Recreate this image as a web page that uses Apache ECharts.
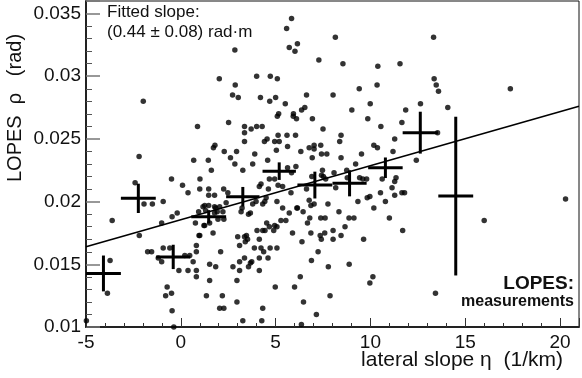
<!DOCTYPE html>
<html>
<head>
<meta charset="utf-8">
<script src="https://cdn.jsdelivr.net/npm/echarts@6/dist/echarts.min.js"></script>
<style>
html, body { margin: 0; padding: 0; background: #fff; }
#main { width: 582px; height: 378px; }
</style>
</head>
<body>
<div id="main"></div>
<script>
// event-by-event measurements (eta, rho)
var lopesPoints = [
    [5.84,0.0346],[5.58,0.0338],[5.72,0.0323],[6.02,0.0320],[6.15,0.0326],
    [2.85,0.0321],[2.03,0.0298],[2.87,0.0293],[4.00,0.0300],[4.72,0.0300],[5.09,0.0298],
    [2.73,0.0285],[3.03,0.0283],[4.20,0.0283],[4.69,0.0280],[5.00,0.0283],[5.51,0.0278],
    [5.16,0.0270],[5.09,0.0268],[5.94,0.0270],[5.93,0.0268],[6.10,0.0266],
    [-1.98,0.0280],[0.88,0.0260],[2.52,0.0263],[3.36,0.0260],[3.36,0.0255],[3.71,0.0258],[4.00,0.0260],[4.29,0.0260],
    [5.13,0.0253],[5.60,0.0253],[6.05,0.0253],[4.55,0.0250],[4.41,0.0248],[4.95,0.0248],[5.19,0.0248],[3.36,0.0248],
    [8.15,0.0331],[13.33,0.0331],[7.28,0.0313],[8.55,0.0310],[10.39,0.0308],[11.56,0.0310],
    [13.36,0.0298],[13.47,0.0293],[13.59,0.0288],[17.38,0.0290],[9.41,0.0290],[10.35,0.0293],
    [6.63,0.0285],[8.03,0.0285],[9.99,0.0278],[12.64,0.0278],[14.08,0.0275],[9.02,0.0273],[11.86,0.0273],
    [6.37,0.0273],[6.54,0.0275],[6.94,0.0266],[9.86,0.0266],[11.66,0.0263],[7.50,0.0258],[10.55,0.0260],
    [8.45,0.0253],[8.38,0.0248],[11.28,0.0250],
    [10.18,0.0245],[10.37,0.0243],[6.77,0.0243],[7.03,0.0245],[7.38,0.0245],[7.03,0.0242],[6.33,0.0240],[11.19,0.0240],
    [7.42,0.0238],[7.70,0.0238],[6.93,0.0235],[8.45,0.0235],[9.53,0.0238],[12.42,0.0233],[9.22,0.0230],[6.07,0.0228],
    [13.54,0.0255],
    [1.72,0.0243],[1.80,0.0245],[2.29,0.0240],[2.62,0.0235],[2.94,0.0240],[3.90,0.0238],[5.04,0.0241],[5.63,0.0244],
    [2.85,0.0230],[3.79,0.0230],[3.27,0.0225],[1.61,0.0225],[1.45,0.0233],[0.68,0.0233],[-2.20,0.0236],
    [-2.41,0.0215],[-0.49,0.0218],[0.09,0.0213],[1.01,0.0218],
    [4.23,0.0214],[4.14,0.0212],[4.67,0.0218],[4.95,0.0218],[5.13,0.0213],[5.37,0.0212],
    [5.84,0.0223],[4.58,0.0233],[5.63,0.0227],[4.62,0.0210],
    [0.38,0.0207],[1.47,0.0210],[1.47,0.0205],[1.78,0.0205],[1.00,0.0210],[2.26,0.0210],[2.48,0.0207],
    [4.50,0.0203],[3.97,0.0200],[3.79,0.0198],[4.32,0.0198],[5.07,0.0200],[5.81,0.0207],
    [6.63,0.0210],[8.17,0.0211],[9.83,0.0203],[9.97,0.0204],[10.53,0.0207],[10.79,0.0200],[11.14,0.0211],
    [11.28,0.0205],[11.66,0.0207],[11.80,0.0207],[9.34,0.0200],[7.76,0.0198],
    [7.47,0.0225],[7.42,0.0221],[7.52,0.0220],[8.08,0.0223],[6.91,0.0220],[7.64,0.0218],
    [8.75,0.0225],[8.78,0.0219],[9.43,0.0219],[9.60,0.0218],[9.80,0.0218],[10.62,0.0218],[11.35,0.0219],[11.28,0.0216],
    [-1.94,0.0198],[-1.50,0.0198],[-0.93,0.0200],[20.29,0.0202],
    [6.77,0.0201],[6.86,0.0197],[7.03,0.0198],[6.15,0.0195],[6.45,0.0192],[6.80,0.0187],[6.68,0.0183],
    [7.38,0.0187],[7.61,0.0187],[8.34,0.0192],[8.66,0.0180],[8.87,0.0187],[9.13,0.0187],[10.18,0.0195],
    [11.00,0.0187],[11.70,0.0177],[5.72,0.0191],
    [5.89,0.0175],[6.39,0.0168],[6.86,0.0175],[7.35,0.0173],[7.41,0.0170],[7.59,0.0175],[8.03,0.0177],
    [8.03,0.0170],[8.45,0.0173],[9.64,0.0170],[7.24,0.0160],[6.89,0.0153],[7.78,0.0148],[8.88,0.0150],
    [16.00,0.0185],
    [-3.62,0.0185],[-2.19,0.0173],[-3.73,0.0153],[-1.01,0.0183],[-0.46,0.0188],[-0.19,0.0191],
    [-1.75,0.0160],[-1.54,0.0160],[-0.93,0.0163],[-0.58,0.0163],[-1.19,0.0155],[-1.01,0.0152],
    [0.21,0.0157],[0.47,0.0157],[0.82,0.0165],[0.82,0.0160],[0.65,0.0152],[1.00,0.0173],[1.70,0.0175],
    [1.26,0.0181],[1.52,0.0183],[0.96,0.0173],[0.94,0.0192],[1.96,0.0186],[2.27,0.0186],[0.77,0.0183],[1.22,0.0181],
    [1.26,0.0197],[1.47,0.0197],[1.78,0.0196],[1.92,0.0192],[2.22,0.0192],[2.39,0.0199],[1.17,0.0196],
    [1.31,0.0193],[1.84,0.0195],[2.05,0.0196],[1.78,0.0191],
    [3.67,0.0191],[3.57,0.0190],[3.18,0.0192],[3.23,0.0195],[5.37,0.0195],[5.28,0.0185],[5.54,0.0185],
    [6.12,0.0195],[4.43,0.0200],
    [4.53,0.0183],[4.67,0.0180],[4.95,0.0181],[5.07,0.0180],
    [4.02,0.0177],[4.32,0.0177],[4.44,0.0177],[4.90,0.0177],[4.14,0.0170],
    [3.10,0.0165],[3.36,0.0172],[3.46,0.0173],[3.52,0.0170],[3.40,0.0168],[3.00,0.0172],
    [3.88,0.0163],[4.23,0.0163],[4.37,0.0160],[4.71,0.0163],[5.07,0.0163],[4.60,0.0155],[4.14,0.0155],
    [2.10,0.0160],[3.36,0.0155],[3.74,0.0152],[3.67,0.0151],[3.10,0.0152],
    [-0.10,0.0145],[0.38,0.0145],[0.82,0.0145],[0.82,0.0140],[1.52,0.0150],[1.84,0.0148],[2.75,0.0148],
    [3.57,0.0148],[3.10,0.0145],[4.14,0.0145],[1.52,0.0137],[2.96,0.0137],
    [-0.72,0.0132],[-0.80,0.0125],[-0.49,0.0127],[-0.46,0.0113],[-0.37,0.0100],[-3.87,0.0127],[-4.98,0.0105],
    [1.35,0.0125],[2.19,0.0125],[2.05,0.0115],[2.27,0.0115],[2.96,0.0120],[3.27,0.0105],[4.32,0.0115],[4.27,0.0105],
    [4.98,0.0132],[6.00,0.0132],[6.30,0.0140],[7.87,0.0125],[10.13,0.0140],[9.97,0.0135],[6.47,0.0120],
    [7.15,0.0110],[6.36,0.0102],[13.43,0.0127]
];

// binned averages with errors
var binX    = [-4.08, -2.24, -0.40, 1.47, 3.27, 5.19, 7.07, 8.90, 10.79, 12.63, 14.50];
var binY    = [0.01427, 0.02026, 0.01559, 0.01879, 0.02039, 0.02243, 0.02132, 0.02146, 0.02270, 0.02550, 0.02044];
var binXErr = [0.92, 0.92, 0.90, 0.92, 0.88, 0.88, 0.92, 0.90, 0.91, 0.93, 0.92];
var binYErr = [0.00143, 0.00117, 0.00097, 0.00053, 0.00078, 0.00070, 0.00107, 0.00104, 0.00082, 0.00167, 0.00633];

// fitted line end points
var fitX = [-5, 21];
var fitY = [0.0164, 0.0276];

var font = 'Liberation Sans, Arial, sans-serif';

var crossData = [];
for (var i = 0; i < binX.length; i++) {
    crossData.push([binX[i], binY[i], binXErr[i], binYErr[i]]);
}
var fitData = [];
for (var j = 0; j < fitX.length; j++) {
    fitData.push([fitX[j], fitY[j]]);
}

var myChart = echarts.init(document.getElementById('main'));
option = {
    backgroundColor: '#fff',
    animation: false,
    grid: {
        left: 86, right: 2, top: 1, bottom: 51,
        show: true,
        borderColor: '#111',
        borderWidth: 1
    },
    xAxis: {
        type: 'value',
        min: -5, max: 21, interval: 5,
        axisLine: { onZero: false, lineStyle: { color: '#222', width: 2 } },
        axisTick: { inside: true, length: 9, lineStyle: { color: '#333', width: 1 } },
        minorTick: { show: true, splitNumber: 5, length: 4, lineStyle: { color: '#333', width: 1 } },
        splitLine: { show: false },
        axisLabel: {
            color: '#111', fontSize: 19, fontFamily: font, margin: 6,
            formatter: function (v) { return (v % 5 === 0) ? String(v) : ''; }
        }
    },
    yAxis: {
        type: 'value',
        min: 0.01, max: 0.036, interval: 0.005,
        axisLine: { onZero: false, lineStyle: { color: '#222', width: 2 } },
        axisTick: { inside: true, length: 14, lineStyle: { color: '#777', width: 1.5 } },
        minorTick: { show: true, splitNumber: 5, length: 6, lineStyle: { color: '#555', width: 1 } },
        splitLine: { show: false },
        axisLabel: {
            color: '#111', fontSize: 19, fontFamily: font, margin: 5,
            formatter: function (v) {
                var k = v / 0.005;
                if (Math.abs(k - Math.round(k)) > 1e-6) return '';
                return String(parseFloat(v.toFixed(3)));
            }
        }
    },
    series: [
        {
            name: 'events',
            type: 'scatter',
            symbol: 'circle',
            symbolSize: 5.5,
            itemStyle: { color: '#000' },
            data: lopesPoints,
            z: 2
        },
        {
            name: 'fit',
            type: 'line',
            symbol: 'none',
            lineStyle: { color: '#000', width: 1.6 },
            data: fitData,
            z: 3
        },
        {
            name: 'bins',
            type: 'custom',
            renderItem: function (params, api) {
                var x = api.value(0), y = api.value(1), dx = api.value(2), dy = api.value(3);
                var l = api.coord([x - dx, y]), r = api.coord([x + dx, y]);
                var t = api.coord([x, y + dy]), b = api.coord([x, y - dy]);
                var st = { stroke: '#000', lineWidth: 3 };
                return {
                    type: 'group',
                    children: [
                        { type: 'line', shape: { x1: l[0], y1: l[1], x2: r[0], y2: r[1] }, style: st },
                        { type: 'line', shape: { x1: t[0], y1: t[1], x2: b[0], y2: b[1] }, style: st }
                    ]
                };
            },
            data: crossData,
            z: 4
        }
    ],
    graphic: [
        { type: 'text', left: 107, top: 4, style: { text: 'Fitted slope:', font: '17px ' + font, fill: '#111' } },
        { type: 'text', left: 107, top: 24, style: { text: '(0.44 \u00b1 0.08) rad\u00b7m', font: '17px ' + font, fill: '#111' } },
        { type: 'text', x: 574, y: 284, style: { text: 'LOPES:', font: 'bold 19px ' + font, fill: '#111', align: 'right', verticalAlign: 'middle' } },
        { type: 'text', x: 574, y: 302, style: { text: 'measurements', font: 'bold 16px ' + font, fill: '#111', align: 'right', verticalAlign: 'middle' } },
        { type: 'text', x: 462, y: 360, style: { text: 'lateral slope \u03b7  (1/km)', font: '21px ' + font, fill: '#111', align: 'center', verticalAlign: 'middle' } },
        { type: 'text', x: 15, y: 108, rotation: Math.PI / 2, style: { text: 'LOPES  \u03c1   (rad)', font: '20px ' + font, fill: '#111', align: 'center', verticalAlign: 'middle' } }
    ]
};
myChart.setOption(option);
</script>
</body>
</html>
